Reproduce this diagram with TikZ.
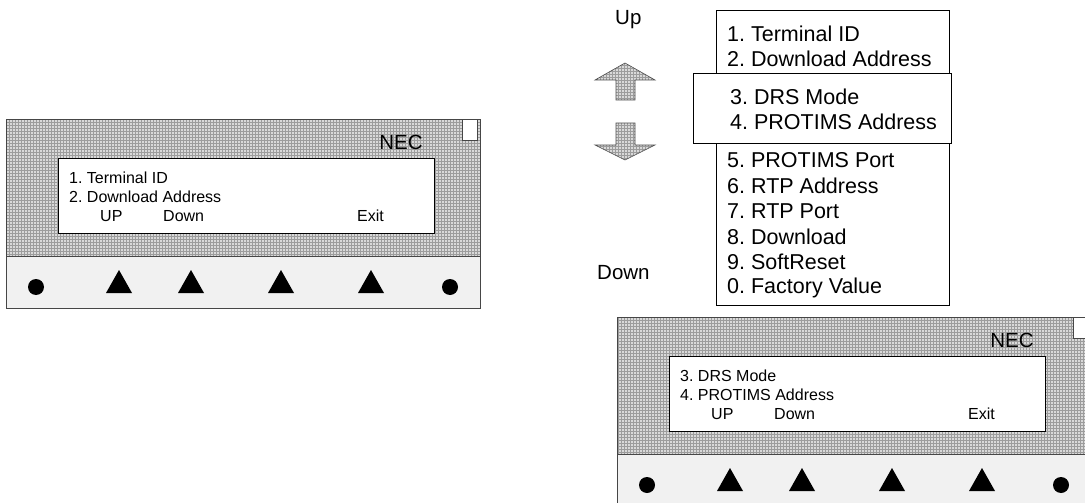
\documentclass[tikz,border=0pt]{standalone}
\usepackage{fontspec}
\setmainfont{Liberation Sans}
\usetikzlibrary{patterns}
\frenchspacing
\tikzset{
  hatch/.style={preaction={fill=gray!30}, pattern=grid, pattern color=gray!78},
  panelline/.style={draw=gray!55!black, line width=0.9pt},
  stripfill/.style={fill=gray!11},
  screenbox/.style={draw=black, fill=white, line width=0.9pt},
  smalltxt/.style={anchor=west, inner sep=0pt, font=\fontsize{16}{19}\selectfont},
  bigtxt/.style={anchor=west, inner sep=0pt, font=\fontsize{21.5}{25}\selectfont},
  necstyle/.style={inner sep=0pt, font=\fontsize{20.5}{24}\selectfont},
  arrowshape/.style={draw=gray!60!black, line width=0.6pt, preaction={fill=gray!30}, pattern=grid, pattern color=gray!78},
  pics/panel/.style n args={2}{code={
    \fill[hatch] (0,0) rectangle (474,137);
    \fill[stripfill] (0,137) rectangle (474,189);
    \draw[panelline] (0,137) -- (474,137);
    \draw[panelline] (0,0) rectangle (474,189);
    \draw[screenbox] (52,39) rectangle (428,114);
    \draw[draw=gray!55!black, fill=white, line width=0.8pt] (456,0) rectangle (471,21);
    \node[necstyle] (-nec) at (395,23) {NEC};
    \node[smalltxt] (-l1) at (63,59) {#1};
    \node[smalltxt] (-l2) at (63,78) {#2};
    \node[smalltxt] (-up) at (94,97) {UP};
    \node[smalltxt] (-down) at (157,97) {Down};
    \node[smalltxt] (-exit) at (351,97) {Exit};
    \fill (30,168) circle (8);
    \fill (444,168) circle (8);
    \foreach \x in {113,185,275,365} \fill (\x-13,174) -- (\x,151) -- (\x+13,174) -- cycle;
  }}
}
\begin{document}
\begin{tikzpicture}[x=1pt, y=-1pt]
\useasboundingbox (0,0) rectangle (1085,503);
\clip (0,0) rectangle (1085,503);
\fill[white] (0,0) rectangle (1085,503);

% left panel
\pic (lp) at (6,119) {panel={1. Terminal ID}{2. Download Address}};
% right panel
\pic (rp) at (617,317) {panel={3. DRS Mode}{4. PROTIMS Address}};

% menu list
\draw[line width=0.8pt, fill=white] (716,10) rectangle (949,305);
\node[bigtxt] (m1) at (727,34) {1. Terminal ID};
\node[bigtxt] (m2) at (727,59) {2. Download Address};
\draw[line width=0.8pt, fill=white] (693,73) rectangle (951,143);
\node[bigtxt] (m3) at (730,97) {3. DRS Mode};
\node[bigtxt] (m4) at (730,122) {4. PROTIMS Address};
\node[bigtxt] (m5) at (727,160) {5. PROTIMS Port};
\node[bigtxt] (m6) at (727,186) {6. RTP Address};
\node[bigtxt] (m7) at (727,211) {7. RTP Port};
\node[bigtxt] (m8) at (727,237) {8. Download};
\node[bigtxt] (m9) at (727,262) {9. SoftReset};
\node[bigtxt] (m0) at (727,288) {0. Factory Value};

% up / down arrows
\node[bigtxt, font=\fontsize{20.5}{24}\selectfont] (uplbl) at (615,20) {Up};
\node[bigtxt, font=\fontsize{20.5}{24}\selectfont] (downlbl) at (597,273) {Down};
\draw[arrowshape] (625,63) -- (655,80) -- (635,80) -- (635,100) -- (616,100) -- (616,80) -- (595,80) -- cycle;
\draw[arrowshape] (625,160) -- (655,145) -- (635,145) -- (635,123) -- (616,123) -- (616,145) -- (595,145) -- cycle;
\end{tikzpicture}
\end{document}
